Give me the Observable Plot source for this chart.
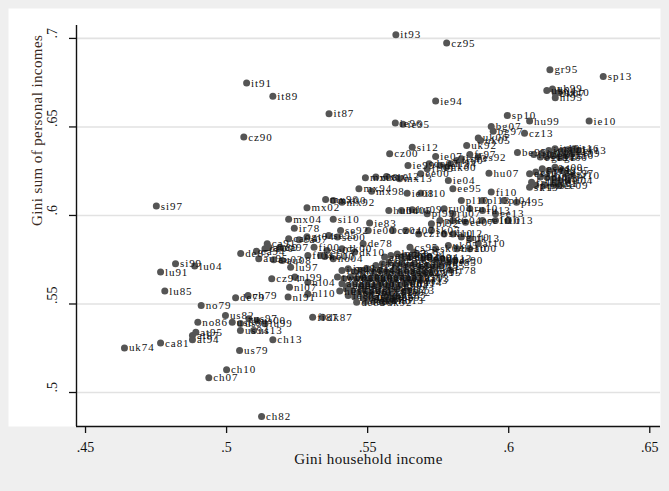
<!DOCTYPE html>
<html>
<head>
<meta charset="utf-8">
<script src="https://cdn.jsdelivr.net/npm/d3@7"></script>
<script src="https://cdn.jsdelivr.net/npm/@observablehq/plot@0.6"></script>
<style>
  html, body { margin: 0; padding: 0; background: #efefef; }
  svg g[font-size="11"] { letter-spacing: 0.9px; }
  svg g[font-size="15"] { letter-spacing: 0.4px; }
</style>
</head>
<body>
<div id="chart"></div>
<script>
// Country-year labels
const codes = [
  "it93","cz95","gr95","sp13","uk04","uk99","dk07","nl95","uk10","it91",
  "it89","it87","ie94","cz90","ie96","ie95","ie10","sp10","hu99","cz13",
  "bg07","bg97","uk06","uk92","fr97","es92","ie07","de07","cz00","si12",
  "ie99","ee00","uk00","fr00","ie04","ee95","hu07","be95","fi10","pl10",
  "pl13","pl04","pl95","ie08","il10","mx08","mx10","mx12","mx13","mx94",
  "mx98","mx96","mx00","mx92","mx02","mx04","si10","ir78","ie83","ie00",
  "hu04","hu05","hu09","pl99","ru04","ru07","ru10","ru13","ee13","lt13",
  "pl92","pl86","ee04","ee07","ee10","lt10","cz04","cz07","cz10","sk07",
  "sk10","hu12","gr10","uk13","at10","uk95","de10","at00","cs95","sk04",
  "de78","se00","se95","se05","dk00","dk10","no00","no04","fi00","fi04",
  "ca04","ca07","ca97","ca00","ca94","au95","au03","au08","lu97","de85",
  "cz94","nl99","nl04","nl07","nl10","nl91","ch79","de79","no79","no86",
  "lu91","si99","lu04","lu85","uk74","ca81","at87","at94","at95","ch13",
  "us79","ch10","ch07","ch82","fi87","dk87","us82","us86","us91","us94",
  "us97","us00","lu99","us13","si97","gt04","ca91","se92","au89","is10",
  // right clusters
  "it00","it04","it08","it10","it12","it14","it16","gr13","gr04","gr07",
  "gr00","gr16","gr99","es13","es10","es07","es04","pt80","es00","es95",
  "es97","pt10","pt04","pt07","il13","il07","il04","sk13","pt00","pt95",
  "il01","ee09","fr10","fr05","uk05","de13","fr94","is13",
  // central cluster
  "at94b","at97","be97","be00","be04","de94","de00","de04","dk04","dk13",
  "es85","es90","fi91","fi95","fi13","fr84","fr89","gr86","gr91","il92",
  "il97","il99","it95","it98","jp08","jp13","kr06","kr12","nl83","nl87",
  "no91","no95","no10","se87","se92b","se13","tw91","tw95","tw00","tw05",
  "tw10","tw13","uk86","uk91","uk94","us74","us04","us07","us10","ca87",
  "ca10","ca13","au85","au01","au10","au14","lu00","lu07","lu10","lu13",
  "ch00","ch04","hu91","hu94","hu15","pl07","sk92","sk96","si04","si07",
  "si13","cz92","cz96","ee02","ie02","ie87","is04","is07","at04","at13",
  "be85","be88","be92","de83","de89","dk87b","dk92","fi87b","fr78","nl93",
  "nl13","no13","ns04","se75","se81"
];

// Gini household income (x)
const giniHousehold = [
  .5600,.5780,.6146,.6335,.6135,.6155,.6165,.6165,.6180,.5071,
  .5164,.5363,.5741,.5061,.5598,.5625,.6285,.5995,.6074,.6056,
  .5938,.5945,.5892,.5851,.5862,.5892,.5741,.5718,.5578,.5658,
  .5643,.5688,.5779,.5817,.5786,.5802,.5930,.6031,.5938,.5832,
  .5907,.5983,.6028,.5640,.5688,.5492,.5529,.5567,.5613,.5469,
  .5514,.5351,.5378,.5409,.5285,.5220,.5378,.5240,.5507,.5502,
  .5575,.5620,.5658,.5711,.5771,.5802,.5862,.5907,.5953,.5998,
  .5726,.5756,.5802,.5847,.5907,.5953,.5590,.5635,.5681,.5726,
  .5771,.5802,.5832,.5862,.5892,.5786,.5817,.5862,.5650,.5741,
  .5484,.5393,.5362,.5356,.5409,.5454,.5348,.5378,.5310,.5288,
  .5220,.5257,.5189,.5136,.5106,.5114,.5167,.5197,.5227,.5050,
  .5160,.5242,.5288,.5223,.5288,.5218,.5076,.5032,.4910,.4898,
  .4766,.4819,.4887,.4781,.4638,.4766,.4879,.4879,.4891,.5164,
  .5046,.5000,.4937,.5124,.5305,.5340,.4996,.5020,.5049,.5049,
  .5079,.5108,.5136,.5096,.4751,.5285,.5144,.5404,.5150,.5333,
  .6089,.6119,.6142,.6164,.6187,.6210,.6232,.6247,.6135,.6157,
  .6180,.6202,.6225,.6112,.6074,.6096,.6119,.6142,.6164,.6187,
  .6202,.6225,.6112,.6135,.6157,.6180,.6210,.6074,.6096,.6127,
  .6157,.6180,.6081,.5711,.5900,.5756,.5794,.5832,
  .5560,.5582,.5605,.5628,.5650,.5672,.5696,.5718,.5741,.5764,
  .5786,.5809,.5529,.5552,.5575,.5598,.5620,.5643,.5666,.5688,
  .5711,.5734,.5756,.5409,.5431,.5454,.5477,.5499,.5522,.5545,
  .5567,.5590,.5613,.5635,.5658,.5681,.5703,.5726,.5393,.5416,
  .5439,.5461,.5484,.5507,.5529,.5552,.5575,.5598,.5620,.5643,
  .5666,.5688,.5409,.5431,.5454,.5477,.5499,.5522,.5545,.5567,
  .5590,.5613,.5635,.5658,.5401,.5424,.5446,.5469,.5492,.5514,
  .5537,.5560,.5582,.5605,.5628,.5431,.5454,.5484,.5507,.5529,
  .5560,.5582,.5605,.5461,.5492,.5522,.5552,.5575,.5793,.5687,
  .5640,.5593,.5620,.5663
];

// Gini sum of personal incomes (y)
const giniPersonal = [
  .7021,.6974,.6823,.6785,.6706,.6715,.6690,.6665,.6695,.6748,
  .6674,.6574,.6646,.6443,.6522,.6515,.6533,.6565,.6533,.6465,
  .6503,.6476,.6438,.6395,.6345,.6330,.6333,.6292,.6348,.6386,
  .6282,.6236,.6273,.6311,.6198,.6151,.6239,.6356,.6132,.6085,
  .6085,.6085,.6075,.6126,.6126,.6213,.6217,.6220,.6207,.6151,
  .6137,.6090,.6085,.6075,.6043,.5978,.5978,.5928,.5957,.5915,
  .6028,.6028,.6032,.6009,.6038,.6009,.6038,.6028,.6009,.5972,
  .5953,.5972,.5972,.5962,.5972,.5972,.5915,.5915,.5896,.5915,
  .5896,.5896,.5878,.5868,.5840,.5831,.5812,.5812,.5821,.5812,
  .5840,.5878,.5887,.5802,.5812,.5793,.5768,.5755,.5821,.5774,
  .5868,.5863,.5821,.5812,.5798,.5755,.5750,.5746,.5708,.5785,
  .5642,.5652,.5623,.5595,.5557,.5539,.5548,.5535,.5492,.5397,
  .5680,.5727,.5714,.5573,.5252,.5279,.5322,.5298,.5341,.5298,
  .5237,.5128,.5083,.4864,.5425,.5425,.5435,.5397,.5390,.5350,
  .5416,.5407,.5388,.5350,.6053,.5880,.5840,.5915,.5820,.5774,
  .6345,.6352,.6367,.6377,.6364,.6371,.6377,.6367,.6330,.6339,
  .6330,.6339,.6348,.6330,.6235,.6245,.6264,.6254,.6273,.6254,
  .6235,.6226,.6217,.6217,.6207,.6198,.6198,.6160,.6170,.6170,
  .6179,.6170,.6188,.6264,.6424,.6282,.6292,.6320,
  .5765,.5774,.5783,.5768,.5765,.5780,.5755,.5765,.5746,.5755,
  .5736,.5746,.5718,.5727,.5736,.5718,.5727,.5718,.5727,.5708,
  .5718,.5708,.5718,.5689,.5699,.5680,.5689,.5699,.5680,.5689,
  .5680,.5689,.5680,.5689,.5680,.5670,.5680,.5680,.5652,.5642,
  .5652,.5642,.5652,.5642,.5652,.5642,.5652,.5642,.5652,.5642,
  .5652,.5642,.5614,.5605,.5614,.5605,.5614,.5605,.5614,.5605,
  .5614,.5605,.5614,.5623,.5573,.5584,.5576,.5567,.5576,.5567,
  .5576,.5567,.5576,.5584,.5567,.5548,.5539,.5535,.5542,.5533,
  .5539,.5548,.5539,.5510,.5514,.5520,.5510,.5520,.5690,.5633,
  .5576,.5520,.5765,.5793
];

const xTicks = [0.45, 0.5, 0.55, 0.6, 0.65];
const yTicks = [0.5, 0.55, 0.6, 0.65, 0.7];
const xDomain = [0.4468, 0.6538];
const yDomain = [0.4808, 0.7073];
const xTitle = "Gini household income";
const yTitle = "Gini sum of personal incomes";

const points = codes.map((c, i) => ({code: c.replace(/b$/, ""), x: giniHousehold[i], y: giniPersonal[i]}));
const fmt = d => String(d).replace(/^0/, "");

const chart = Plot.plot({
  width: 669,
  height: 491,
  marginLeft: 76,
  marginRight: 9,
  marginTop: 25,
  marginBottom: 65,
  style: {background: "#efefef", fontFamily: "'Liberation Serif', 'Times New Roman', serif", color: "#111"},
  x: {domain: xDomain},
  y: {domain: yDomain},
  marks: [
    Plot.frame({fill: "white", stroke: null, insetLeft: -68, insetTop: -17}),
    Plot.gridY(yTicks, {stroke: "#e2e2e2", strokeOpacity: 1, strokeWidth: 1.6}),
    Plot.ruleY([yDomain[0]], {stroke: "#111", strokeWidth: 1.4}),
    Plot.ruleX([xDomain[0]], {stroke: "#111", strokeWidth: 1.4}),
    Plot.axisX(xTicks, {tickSize: 7, tickPadding: 9, tickFormat: fmt, fontSize: 14, label: null, stroke: "#111", strokeWidth: 1.3}),
    Plot.axisY(yTicks, {tickSize: 7, tickFormat: () => "", label: null, stroke: "#111", strokeWidth: 1.3}),
    Plot.text(yTicks, {y: d => d, frameAnchor: "left", text: fmt, rotate: -90, dx: -24, fontSize: 14, fill: "#111"}),
    Plot.dot(points, {x: "x", y: "y", r: 3.5, fill: "#555"}),
    Plot.text(points, {x: "x", y: "y", text: "code", textAnchor: "start", dx: 4.5, fontSize: 11, fill: "#111"}),
    Plot.text([xTitle], {frameAnchor: "bottom", dy: 37, fontSize: 15, fill: "#111"}),
    Plot.text([yTitle], {frameAnchor: "left", rotate: -90, dx: -39, fontSize: 15, fill: "#3a2a22"})
  ]
});
document.getElementById("chart").appendChild(chart);
</script>
</body>
</html>
